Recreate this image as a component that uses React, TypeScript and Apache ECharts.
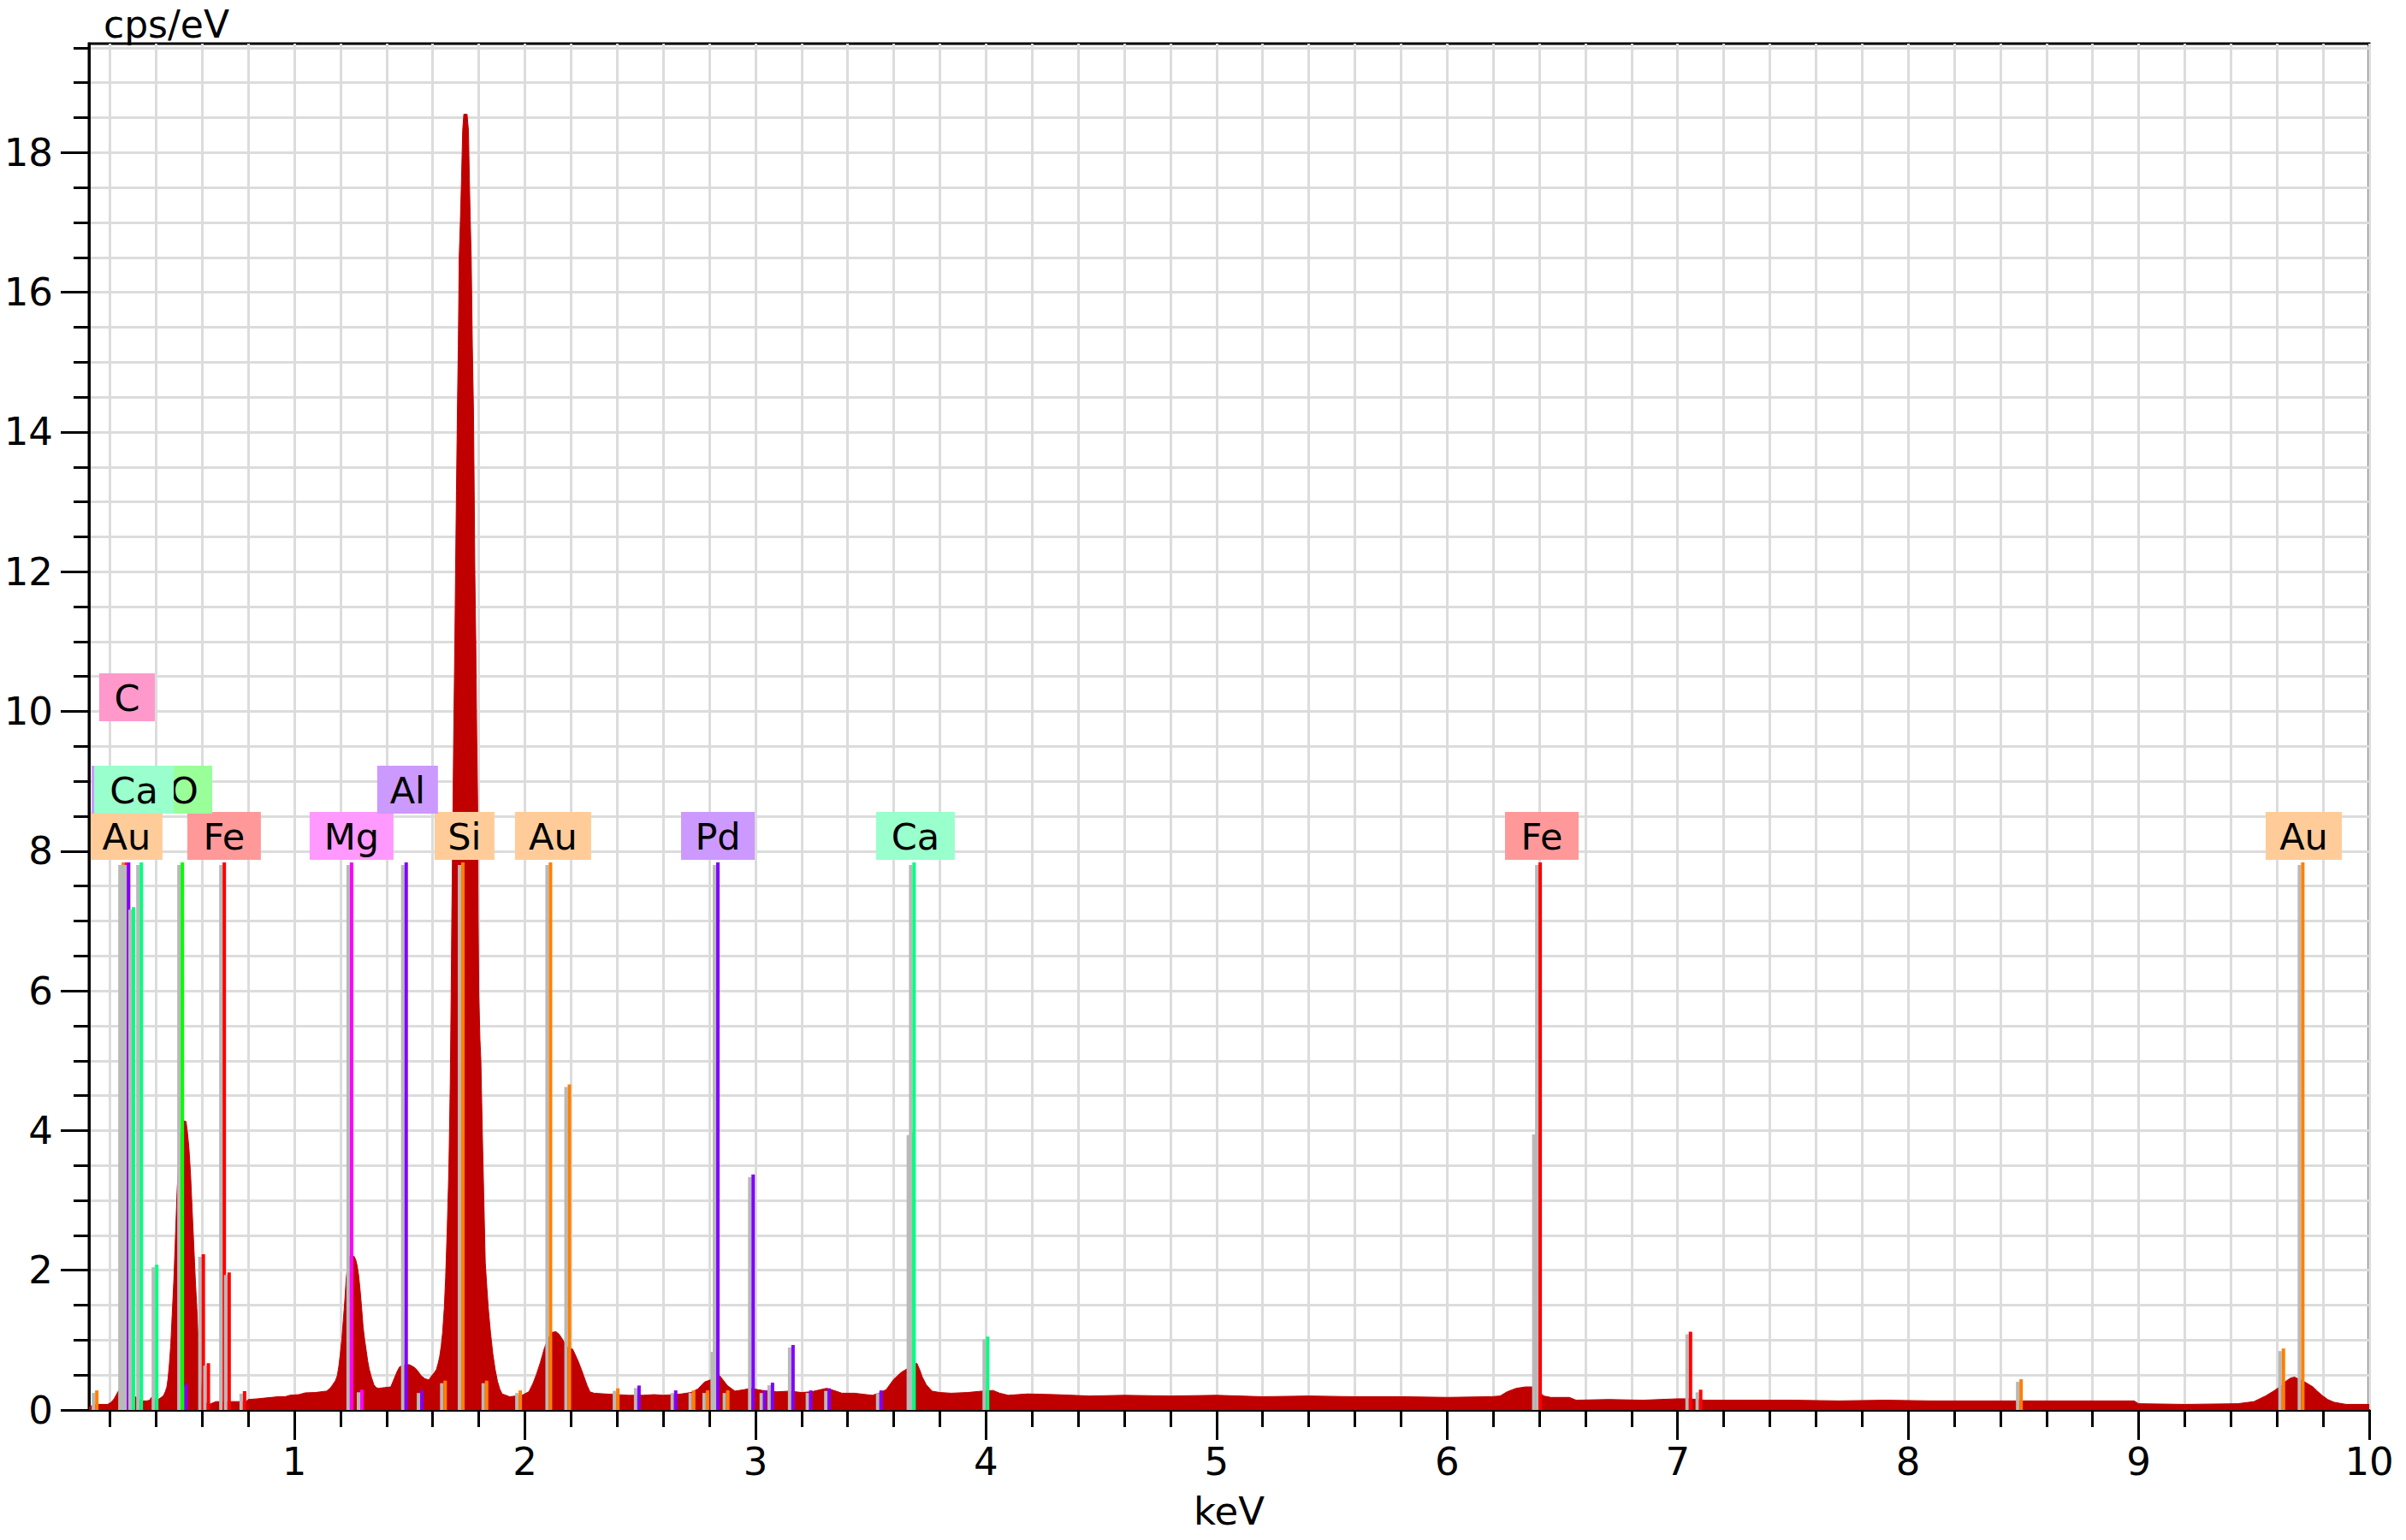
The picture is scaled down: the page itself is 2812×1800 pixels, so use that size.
import React, { useEffect, useRef } from "react";
import * as echarts from "echarts";

const FONT = '"DejaVu Sans", Verdana, sans-serif';

// ---------- spectrum (keV, cps/eV) ----------
const spectrumLowEnergy: [number, number][] = [
  [0.109, 0.04], [0.125, 0.07], [0.15, 0.08], [0.19, 0.08], [0.205, 0.11], [0.218, 0.16], [0.228, 0.22],
  [0.238, 0.28], [0.25, 0.27], [0.265, 0.23], [0.28, 0.21], [0.295, 0.2], [0.31, 0.19], [0.325, 0.15],
  [0.34, 0.13], [0.36, 0.13], [0.372, 0.14], [0.38, 0.18], [0.388, 0.14], [0.4, 0.13], [0.418, 0.17],
  [0.431, 0.2], [0.44, 0.26], [0.447, 0.33], [0.452, 0.45], [0.458, 0.67], [0.464, 0.95], [0.47, 1.37],
  [0.477, 1.85], [0.483, 2.38], [0.491, 3.12], [0.498, 3.55], [0.505, 3.85], [0.513, 4.05], [0.52, 4.14],
  [0.53, 4.13], [0.537, 3.95], [0.543, 3.73], [0.55, 3.35], [0.556, 2.9], [0.563, 2.4], [0.57, 1.89],
  [0.577, 1.45], [0.583, 1.02], [0.59, 0.65], [0.596, 0.32], [0.603, 0.14], [0.615, 0.1], [0.632, 0.08],
  [0.645, 0.1], [0.66, 0.12], [0.7, 0.12], [0.75, 0.12], [0.79, 0.12], [0.8, 0.15], [0.84, 0.16],
  [0.87, 0.17], [0.9, 0.18], [0.93, 0.19], [0.96, 0.19], [0.98, 0.21], [1.02, 0.22], [1.047, 0.245],
];
const spectrumMgAlSi: [number, number][] = [
  [1.09, 0.25], [1.139, 0.27], [1.155, 0.31], [1.166, 0.36], [1.178, 0.42], [1.186, 0.49], [1.193, 0.63],
  [1.199, 0.8], [1.206, 1.02], [1.212, 1.28], [1.219, 1.58], [1.225, 1.89], [1.232, 2.1], [1.239, 2.2],
  [1.259, 2.2], [1.266, 2.15], [1.272, 2.07], [1.279, 1.92], [1.285, 1.72], [1.292, 1.45], [1.298, 1.19],
  [1.305, 1.0], [1.312, 0.84], [1.318, 0.7], [1.325, 0.58], [1.335, 0.46], [1.345, 0.36], [1.355, 0.32],
  [1.365, 0.31], [1.391, 0.32], [1.418, 0.33], [1.428, 0.41], [1.438, 0.49], [1.447, 0.56], [1.457, 0.62],
  [1.475, 0.64], [1.497, 0.65], [1.51, 0.63], [1.524, 0.6], [1.537, 0.55], [1.55, 0.49], [1.565, 0.45],
  [1.583, 0.43], [1.596, 0.49], [1.606, 0.53], [1.616, 0.58], [1.623, 0.66], [1.63, 0.76], [1.637, 0.92],
  [1.643, 1.11], [1.65, 1.45], [1.656, 1.89], [1.663, 2.6], [1.67, 3.43], [1.676, 4.65], [1.68, 5.94],
  [1.683, 7.1], [1.688, 8.65], [1.691, 9.64], [1.696, 11.0], [1.699, 11.96], [1.703, 13.16], [1.707, 14.28],
  [1.711, 15.23], [1.715, 16.51], [1.72, 17.03], [1.725, 17.63], [1.73, 18.32], [1.735, 18.55], [1.749, 18.55],
  [1.755, 18.32], [1.759, 17.63], [1.763, 17.03], [1.767, 16.51], [1.772, 15.23], [1.777, 14.28], [1.78, 13.16],
  [1.783, 11.96], [1.787, 11.0], [1.791, 9.64], [1.795, 8.65], [1.797, 7.1], [1.8, 5.94], [1.805, 5.3],
  [1.809, 5.0], [1.815, 4.0], [1.822, 2.99], [1.828, 2.11], [1.835, 1.75], [1.841, 1.46], [1.851, 1.1],
  [1.861, 0.8], [1.871, 0.58], [1.881, 0.41], [1.891, 0.3], [1.901, 0.23], [1.934, 0.19], [1.96, 0.2], [1.987, 0.21],
];
const spectrumAuPdCa: [number, number][] = [
  [2.017, 0.26], [2.035, 0.38], [2.05, 0.51], [2.067, 0.68], [2.083, 0.87], [2.1, 1.02], [2.116, 1.11],
  [2.135, 1.12], [2.149, 1.08], [2.165, 1.0], [2.182, 0.9], [2.207, 0.87], [2.22, 0.78], [2.232, 0.69],
  [2.245, 0.58], [2.257, 0.47], [2.27, 0.35], [2.282, 0.26], [2.3, 0.24], [2.348, 0.23], [2.4, 0.22],
  [2.45, 0.21], [2.514, 0.21], [2.56, 0.22], [2.6, 0.21], [2.65, 0.22], [2.679, 0.23], [2.72, 0.25],
  [2.75, 0.3], [2.779, 0.4], [2.812, 0.44], [2.83, 0.48], [2.845, 0.49], [2.862, 0.42], [2.878, 0.35],
  [2.911, 0.27], [2.95, 0.29], [2.978, 0.31], [3.03, 0.28], [3.093, 0.26], [3.15, 0.27], [3.2, 0.25],
  [3.242, 0.26], [3.308, 0.31], [3.34, 0.28], [3.375, 0.24], [3.43, 0.24], [3.507, 0.21], [3.535, 0.24],
  [3.567, 0.29], [3.6, 0.44], [3.633, 0.54], [3.658, 0.59], [3.68, 0.64], [3.7, 0.67], [3.712, 0.58],
  [3.724, 0.47], [3.741, 0.36], [3.766, 0.27], [3.8, 0.25], [3.849, 0.24], [3.92, 0.25], [3.982, 0.27],
  [4.03, 0.28], [4.06, 0.24], [4.097, 0.21], [4.18, 0.23],
];
const spectrumHighEnergy: [number, number][] = [
  [4.3, 0.22], [4.45, 0.2], [4.6, 0.21], [4.8, 0.2], [5.0, 0.21], [5.2, 0.19], [5.4, 0.2], [5.6, 0.19],
  [5.8, 0.19], [6.0, 0.18], [6.19, 0.19], [6.23, 0.2], [6.26, 0.26], [6.3, 0.31], [6.34, 0.33], [6.37, 0.33],
  [6.39, 0.28], [6.42, 0.2], [6.45, 0.18], [6.53, 0.18], [6.56, 0.14], [6.7, 0.15], [6.85, 0.14], [7.0, 0.16],
  [7.05, 0.16], [7.12, 0.14], [7.3, 0.14], [7.5, 0.14], [7.7, 0.13], [7.9, 0.14], [8.1, 0.13], [8.3, 0.13],
  [8.5, 0.13], [8.7, 0.13], [8.98, 0.13], [9.0, 0.09], [9.2, 0.08], [9.43, 0.09], [9.5, 0.12], [9.55, 0.2],
  [9.585, 0.27], [9.62, 0.35], [9.638, 0.41], [9.66, 0.46], [9.677, 0.47], [9.695, 0.44], [9.716, 0.41],
  [9.736, 0.37], [9.756, 0.33], [9.775, 0.27], [9.795, 0.21], [9.82, 0.15], [9.848, 0.11], [9.9, 0.08], [10.0, 0.08],
];

// ---------- element marker lines (keV, height) ----------
const auLines: [number, number][] = [
  [0.143, 0.28], [0.258, 7.84], [1.654, 0.42], [1.98, 0.28], [2.111, 7.84], [2.193, 4.66], [2.403, 0.31],
  [2.732, 0.28], [2.792, 0.28], [2.88, 0.28], [8.49, 0.44], [9.628, 0.88], [9.712, 7.84],
];
const cLines: [number, number][] = [[0.272, 7.84]];
const pdLines: [number, number][] = [
  [0.281, 7.84], [0.53, 0.37], [2.495, 0.35], [2.654, 0.28], [2.827, 0.87], [2.837, 7.84], [2.99, 3.37],
  [3.04, 0.28], [3.074, 0.39], [3.163, 0.93], [3.24, 0.28], [3.32, 0.31], [3.545, 0.28],
];
const caLines: [number, number][] = [
  [0.302, 7.2], [0.336, 7.84], [0.403, 2.08], [3.678, 3.97], [3.688, 7.84], [4.007, 1.05],
];
const oLines: [number, number][] = [[0.514, 7.84]];
const feLines: [number, number][] = [
  [0.605, 2.23], [0.627, 0.67], [0.696, 7.84], [0.717, 1.97], [0.784, 0.27], [6.391, 3.98], [6.404, 7.84],
  [7.056, 1.12], [7.1, 0.29],
];
const mgLines: [number, number][] = [[1.248, 7.84], [1.293, 0.29]];
const alLines: [number, number][] = [[1.485, 7.84], [1.553, 0.28]];
const siLines: [number, number][] = [[1.731, 7.84], [1.834, 0.42]];

const elementNames = ["Au", "C", "Pd", "Ca", "O", "Fe", "Mg", "Al", "Si"];
const elementLineColors = ["#ff8000", "#ff0080", "#8000ff", "#00ff80", "#00ff00", "#ff0000", "#ff00ff", "#8000ff", "#ff8000"];
const elementBoxColors = ["#ffcc99", "#ff99cc", "#cc99ff", "#99ffcc", "#99ff99", "#ff9999", "#ff99ff", "#cc99ff", "#ffcc99"];
const elementLines = [auLines, cLines, pdLines, caLines, oLines, feLines, mgLines, alLines, siLines];

// ---------- element labels ----------
const labelLevel = 7.84;
const labelText = ["Au", "Fe", "Mg", "Si", "Au", "Pd", "Ca", "Fe", "Au", "", "O", "Ca", "Al", "C"];
const labelElement = ["Au", "Fe", "Mg", "Si", "Au", "Pd", "Ca", "Fe", "Au", "Pd", "O", "Ca", "Al", "C"];
const labelKeV = [0.272, 0.695, 1.248, 1.738, 2.122, 2.837, 3.694, 6.411, 9.716, 0.278, 0.521, 0.304, 1.491, 0.274];
const labelRow = [0, 0, 0, 0, 0, 0, 0, 0, 0, 1, 1, 1, 1, 3];
// box widths (px) – style, not data
const LABEL_BOX_W = [84, 86, 98, 70, 89, 86, 92, 86, 89, 85, 66, 93, 71, 65];
const LABEL_BOX_H = 56;

// ---------- ticks ----------
const xMajorTicks = [1, 2, 3, 4, 5, 6, 7, 8, 9, 10];
const xMinorTicks = [
  0.2, 0.4, 0.6, 0.8, 1, 1.2, 1.4, 1.6, 1.8, 2, 2.2, 2.4, 2.6, 2.8, 3, 3.2, 3.4, 3.6, 3.8, 4, 4.2, 4.4, 4.6, 4.8, 5,
  5.2, 5.4, 5.6, 5.8, 6, 6.2, 6.4, 6.6, 6.8, 7, 7.2, 7.4, 7.6, 7.8, 8, 8.2, 8.4, 8.6, 8.8, 9, 9.2, 9.4, 9.6, 9.8, 10,
];
const yMajorTicks = [0, 2, 4, 6, 8, 10, 12, 14, 16, 18];
const yMinorTicks = [
  0, 0.5, 1, 1.5, 2, 2.5, 3, 3.5, 4, 4.5, 5, 5.5, 6, 6.5, 7, 7.5, 8, 8.5, 9, 9.5, 10, 10.5, 11, 11.5, 12, 12.5,
  13, 13.5, 14, 14.5, 15, 15.5, 16, 16.5, 17, 17.5, 18, 18.5, 19, 19.5,
];

const X_MIN = 0.109;
const X_MAX = 10;
const Y_MIN = 0;
const Y_MAX = 19.56;

export default function App() {
  const ref = useRef<HTMLDivElement>(null);

  useEffect(() => {
    if (!ref.current) return;
    const chart = echarts.init(ref.current, null, { renderer: "svg" });

    const spectrum = [...spectrumLowEnergy, ...spectrumMgAlSi, ...spectrumAuPdCa, ...spectrumHighEnergy];

    const markerData: number[][] = [];
    elementLines.forEach((lines, ci) => lines.forEach(([e, h]) => markerData.push([e, h, ci])));

    const labelData = labelKeV.map((e, i) => [e, labelRow[i], i]);

    const axisLineStyle = { color: "#000", width: 3 };
    const textStyle = { color: "#000", fontSize: 45, fontFamily: FONT };

    chart.setOption({
      animation: false,
      backgroundColor: "#ffffff",
      grid: {
        left: 104,
        top: 51,
        right: 43,
        bottom: 152,
        show: true,
        borderColor: "#000",
        borderWidth: 3,
        backgroundColor: "transparent",
      },
      graphic: [
        {
          type: "text",
          left: 121,
          top: 6,
          style: { text: "cps/eV", fill: "#000", fontSize: 44, fontFamily: FONT },
        },
      ],
      xAxis: [
        {
          type: "value",
          min: X_MIN,
          max: X_MAX,
          position: "bottom",
          axisLine: { show: true, lineStyle: axisLineStyle },
          axisTick: { show: true, length: 20, lineStyle: axisLineStyle, customValues: xMinorTicks },
          axisLabel: { show: false },
          splitLine: { show: true, lineStyle: { color: "#dcdcdc", width: 3 } },
          name: "keV",
          nameLocation: "middle",
          nameGap: 96,
          nameTextStyle: textStyle,
        },
        {
          type: "value",
          min: X_MIN,
          max: X_MAX,
          position: "bottom",
          axisLine: { show: false },
          axisTick: { show: true, length: 35, lineStyle: axisLineStyle, customValues: xMajorTicks },
          axisLabel: { show: true, customValues: xMajorTicks, margin: 38, ...textStyle },
          splitLine: { show: false },
        },
      ],
      yAxis: [
        {
          type: "value",
          min: Y_MIN,
          max: Y_MAX,
          position: "left",
          axisLine: { show: true, lineStyle: axisLineStyle },
          axisTick: { show: true, length: 18, lineStyle: axisLineStyle, customValues: yMinorTicks },
          axisLabel: { show: false },
          splitLine: { show: true, lineStyle: { color: "#dcdcdc", width: 3 } },
        },
        {
          type: "value",
          min: Y_MIN,
          max: Y_MAX,
          position: "left",
          axisLine: { show: false },
          axisTick: { show: true, length: 33, lineStyle: axisLineStyle, customValues: yMajorTicks },
          axisLabel: { show: true, customValues: yMajorTicks, margin: 42, ...textStyle },
          splitLine: { show: false },
        },
      ],
      series: [
        {
          type: "line",
          name: "spectrum",
          xAxisIndex: 0,
          yAxisIndex: 0,
          data: spectrum,
          symbol: "none",
          showSymbol: false,
          lineStyle: { color: "#c00000", width: 1 },
          areaStyle: { color: "#c00000", opacity: 1 },
          z: 3,
        },
        {
          type: "custom",
          name: "lines",
          xAxisIndex: 0,
          yAxisIndex: 0,
          data: markerData,
          encode: { x: 0, y: 1 },
          z: 4,
          renderItem: (params: any, api: any) => {
            const e = api.value(0);
            const h = api.value(1);
            const ci = api.value(2);
            const top = api.coord([e, h]);
            const base = api.coord([e, 0]);
            const len = base[1] - top[1];
            return {
              type: "group",
              children: [
                {
                  type: "rect",
                  shape: { x: top[0] - 6, y: top[1] + 3, width: 4, height: Math.max(0, len - 3) },
                  style: { fill: "#b9b9b9" },
                },
                {
                  type: "rect",
                  shape: { x: top[0] - 2, y: top[1], width: 4, height: len },
                  style: { fill: elementLineColors[ci] },
                },
              ],
            };
          },
        },
        {
          type: "custom",
          name: "labels",
          xAxisIndex: 0,
          yAxisIndex: 0,
          data: labelData,
          encode: { x: 0, y: 1 },
          z: 5,
          clip: false,
          renderItem: (params: any, api: any) => {
            const i = api.value(2);
            const p = api.coord([api.value(0), labelLevel]);
            const row = api.value(1);
            const bottom = p[1] - 3 - row * 54;
            const el = labelElement[i];
            const bg = elementBoxColors[elementNames.indexOf(el)];
            const txt = labelText[i];
            const w = LABEL_BOX_W[i];
            const children: any[] = [
              {
                type: "rect",
                z2: i * 3,
                shape: { x: p[0] - w / 2, y: bottom - LABEL_BOX_H, width: w, height: LABEL_BOX_H },
                style: { fill: bg },
              },
            ];
            if (txt) {
              children.push({
                type: "text",
                z2: i * 3 + 1,
                x: p[0],
                y: bottom - LABEL_BOX_H / 2 + 1,
                style: {
                  text: txt,
                  fill: "#000",
                  fontSize: 43,
                  fontFamily: FONT,
                  align: "center",
                  verticalAlign: "middle",
                },
              });
            }
            return { type: "group", children };
          },
        },
      ],
    });

    return () => chart.dispose();
  }, []);

  return (
    <div
      ref={ref}
      style={{ position: "fixed", left: 0, top: 0, width: 2812, height: 1800, background: "#fff" }}
    />
  );
}
